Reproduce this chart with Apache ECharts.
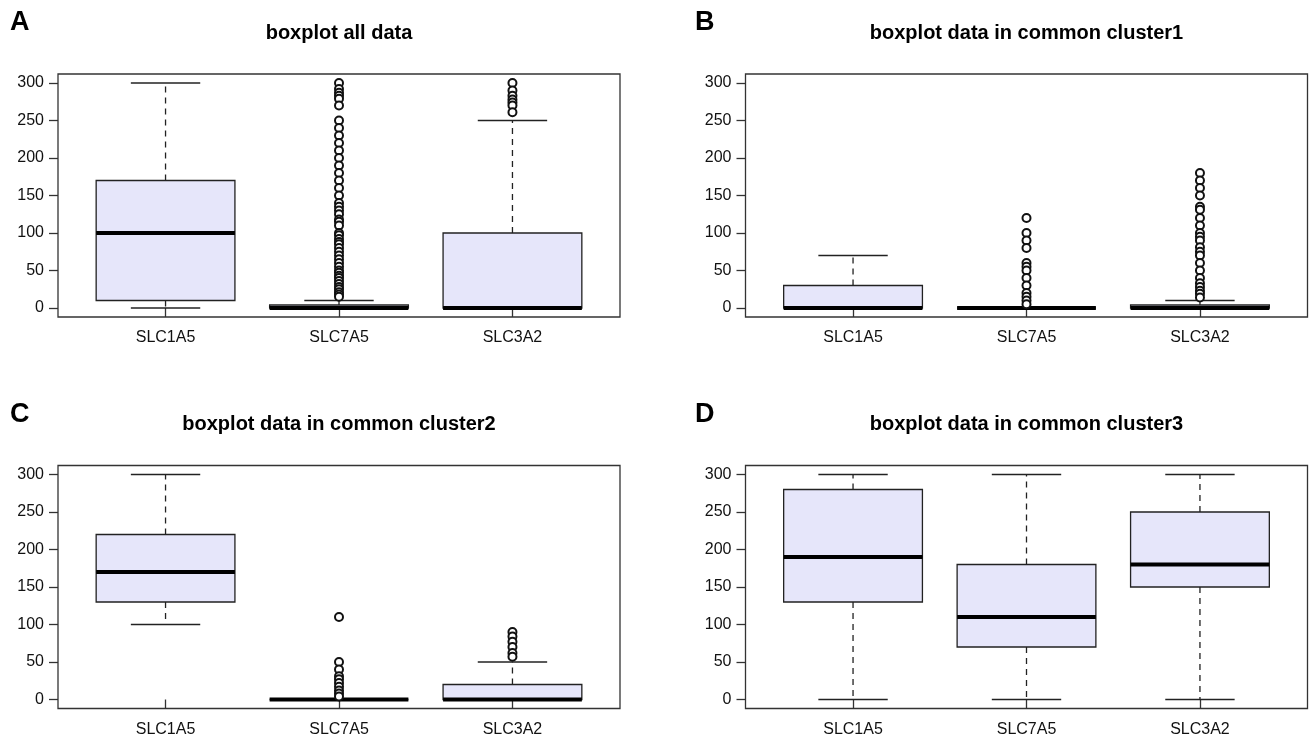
<!DOCTYPE html>
<html>
<head>
<meta charset="utf-8">
<script src="https://cdn.jsdelivr.net/npm/echarts@6/dist/echarts.min.js"></script>
<style>
  html, body { margin: 0; padding: 0; background: #fff; }
  #chart { width: 1311px; height: 750px; }
</style>
</head>
<body>
<div id="chart"></div>
<script>
// ---------- data ----------
const categories = ['SLC1A5', 'SLC7A5', 'SLC3A2'];
const yTicks = [0, 50, 100, 150, 200, 250, 300];
const panelLetters = ['A', 'B', 'C', 'D'];
const panelTitles = ['boxplot all data', 'boxplot data in common cluster1',
                     'boxplot data in common cluster2', 'boxplot data in common cluster3'];

// each box: [lowerWhisker, Q1, median, Q3, upperWhisker]
const boxesA = [[0, 10, 100, 170, 300], [0, 0, 0, 4, 10], [0, 0, 0, 100, 250]];
const boxesB = [[0, 0, 0, 30, 70], [0, 0, 0, 0, 0], [0, 0, 0, 4, 10]];
const boxesC = [[100, 130, 170, 220, 300], [0, 0, 0, 0, 0], [0, 0, 0, 20, 50]];
const boxesD = [[0, 130, 190, 280, 300], [0, 70, 110, 180, 300], [0, 150, 180, 250, 300]];

// outliers per category
const outliersA = [
  [],
  [300, 292, 287, 283, 279, 270, 250, 240, 230, 220, 210, 200, 190, 180, 170, 160, 150,
   140, 135, 130, 125, 118, 115, 110, 100, 97, 92, 88, 85, 80, 75, 70, 65, 60, 55, 50,
   47, 43, 40, 36, 32, 28, 25, 21, 18, 15],
  [300, 290, 283, 278, 274, 270, 261]
];
const outliersB = [
  [],
  [120, 100, 90, 80, 60, 55, 50, 40, 30, 20, 15, 10, 5],
  [180, 170, 160, 150, 135, 131, 120, 110, 100, 95, 90, 81, 75, 70, 60, 50, 40, 33, 28, 23, 19, 14]
];
const outliersC = [
  [],
  [110, 50, 40, 31, 27, 22, 17, 12, 8, 4],
  [90, 84, 77, 70, 62, 57]
];
const outliersD = [[], [], []];

const allBoxes = [boxesA, boxesB, boxesC, boxesD];
const allOutliers = [outliersA, outliersB, outliersC, outliersD];

// ---------- layout ----------
const FONT = '"Liberation Sans", Arial, Helvetica, sans-serif';
const grids = [
  { left: 58, top: 74, width: 562, height: 243 },
  { left: 745.5, top: 74, width: 562, height: 243 },
  { left: 58, top: 465.5, width: 562, height: 243 },
  { left: 745.5, top: 465.5, width: 562, height: 243 }
];

function renderBox(params, api) {
  const x = api.value(0);
  const lo = api.value(1), q1 = api.value(2), med = api.value(3), q3 = api.value(4), hi = api.value(5);
  const half = api.size([0.8, 0])[0] / 2;
  const capHalf = api.size([0.4, 0])[0] / 2;
  const pLo = api.coord([x, lo]), pQ1 = api.coord([x, q1]), pMed = api.coord([x, med]),
        pQ3 = api.coord([x, q3]), pHi = api.coord([x, hi]);
  const cx = pMed[0];
  const stroke = '#222';
  const dashed = { stroke: stroke, lineWidth: 1.3, lineDash: [6, 5], fill: null };
  const solid = { stroke: stroke, lineWidth: 1.3, fill: null };
  const children = [];
  if (pHi[1] < pQ3[1]) children.push({ type: 'line', shape: { x1: cx, y1: pQ3[1], x2: cx, y2: pHi[1] }, style: dashed });
  if (pLo[1] > pQ1[1]) children.push({ type: 'line', shape: { x1: cx, y1: pQ1[1], x2: cx, y2: pLo[1] }, style: dashed });
  children.push({ type: 'line', shape: { x1: cx - capHalf, y1: pHi[1], x2: cx + capHalf, y2: pHi[1] }, style: solid });
  children.push({ type: 'line', shape: { x1: cx - capHalf, y1: pLo[1], x2: cx + capHalf, y2: pLo[1] }, style: solid });
  children.push({ type: 'rect', shape: { x: cx - half, y: pQ3[1], width: half * 2, height: pQ1[1] - pQ3[1] },
                  style: { fill: '#E6E6FA', stroke: stroke, lineWidth: 1.3 } });
  children.push({ type: 'line', shape: { x1: cx - half, y1: pMed[1], x2: cx + half, y2: pMed[1] },
                  style: { stroke: '#000', lineWidth: 3.8 } });
  return { type: 'group', children: children };
}

const option = {
  animation: false,
  backgroundColor: '#fff',
  grid: grids.map(g => Object.assign({ show: true, borderColor: '#333', borderWidth: 1.3, backgroundColor: 'transparent' }, g)),
  xAxis: grids.map((g, i) => ({
    type: 'value', gridIndex: i, min: 0.38, max: 3.62,
    splitLine: { show: false },
    axisLine: { show: false },
    axisTick: { show: true, customValues: [1, 2, 3], inside: false, length: 9, lineStyle: { color: '#333', width: 1.3 } },
    axisLabel: { show: true, customValues: [1, 2, 3], margin: 13, color: '#111', fontSize: 16, fontFamily: FONT,
                 formatter: v => categories[Math.round(v) - 1] || '' }
  })),
  yAxis: grids.map((g, i) => ({
    type: 'value', gridIndex: i, min: -12, max: 312,
    splitLine: { show: false },
    axisLine: { show: false },
    axisTick: { show: true, customValues: yTicks, inside: false, length: 9, lineStyle: { color: '#333', width: 1.3 } },
    axisLabel: { show: true, customValues: yTicks, margin: 14, color: '#111', fontSize: 16, fontFamily: FONT }
  })),
  graphic: [],
  series: []
};

allBoxes.forEach((boxes, i) => {
  option.series.push({
    type: 'custom', xAxisIndex: i, yAxisIndex: i,
    renderItem: renderBox,
    data: boxes.map((b, k) => [k + 1].concat(b)),
    z: 2
  });
  const pts = [];
  allOutliers[i].forEach((arr, k) => arr.forEach(v => pts.push([k + 1, v])));
  option.series.push({
    type: 'scatter', xAxisIndex: i, yAxisIndex: i,
    symbol: 'emptyCircle', symbolSize: 8,
    itemStyle: { color: '#111', borderColor: '#111', borderWidth: 1.2, opacity: 1 },
    data: pts, z: 3
  });
});

grids.forEach((g, i) => {
  option.graphic.push({
    type: 'text', x: g.left + g.width / 2, y: g.top - 41,
    style: { text: panelTitles[i], fill: '#000', font: 'bold 20px ' + FONT, textAlign: 'center', textVerticalAlign: 'middle' }
  });
  option.graphic.push({
    type: 'text', x: (i % 2 === 0 ? 10 : 695), y: g.top - 51,
    style: { text: panelLetters[i], fill: '#000', font: 'bold 27px ' + FONT, textAlign: 'left', textVerticalAlign: 'middle' }
  });
});

const chart = echarts.init(document.getElementById('chart'), null, { renderer: 'canvas' });
chart.setOption(option);
</script>
</body>
</html>
